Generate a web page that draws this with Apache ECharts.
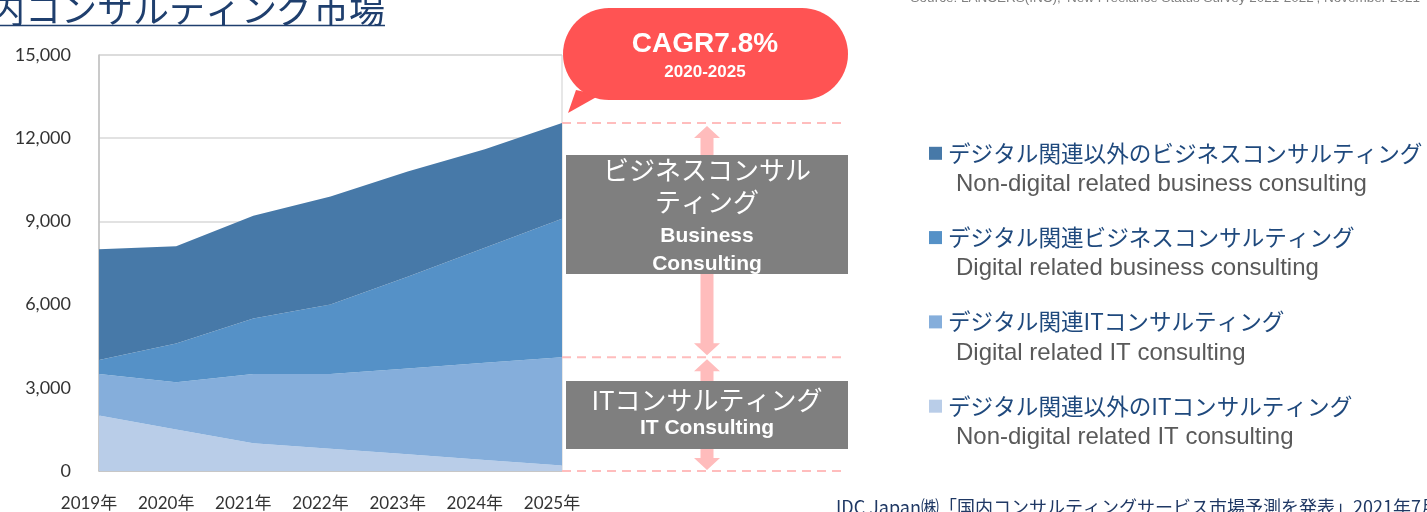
<!DOCTYPE html>
<html>
<head>
<meta charset="utf-8">
<script src="https://cdn.jsdelivr.net/npm/echarts@6/dist/echarts.min.js"></script>
<style>
html, body { margin: 0; padding: 0; background: #fff; }
#main { width: 1427px; height: 512px; }
</style>
</head>
<body>
<div id="main"></div>
<script>
// data (億円)
const years = ['2019年', '2020年', '2021年', '2022年', '2023年', '2024年', '2025年']
const nonDigitalIt = [2000, 1500, 1000, 800, 600, 400, 200]
const digitalIt = [1500, 1700, 2500, 2700, 3100, 3500, 3900]
const digitalBiz = [500, 1400, 2000, 2500, 3300, 4150, 5000]
const nonDigitalBiz = [4000, 3500, 3700, 3900, 3800, 3550, 3450]

const namesJa = [
  'デジタル関連以外のビジネスコンサルティング',
  'デジタル関連ビジネスコンサルティング',
  'デジタル関連ITコンサルティング',
  'デジタル関連以外のITコンサルティング'
]
const namesEn = [
  'Non-digital related business consulting',
  'Digital related business consulting',
  'Digital related IT consulting',
  'Non-digital related IT consulting'
]
const colors = ['#4779a8', '#5591c7', '#85aedb', '#b9cde8']

const chartInstance = echarts.init(document.getElementById('main'))

const areaSeries = (name, data, color) => ({
  name: name,
  type: 'line',
  stack: 'total',
  data: data,
  symbol: 'none',
  silent: true,
  lineStyle: { width: 0 },
  areaStyle: { color: color, opacity: 1 },
  emphasis: { disabled: true }
})

const legendRich = {
  ja: { fontFamily: 'Noto Sans CJK JP', fontSize: 22.6, color: '#1f497d', lineHeight: 31, padding: [0, 0, 0, 6] },
  en: { fontFamily: 'Liberation Sans', fontSize: 24, color: '#595959', lineHeight: 31, padding: [0, 0, 0, 27] }
}
colors.forEach((c, i) => {
  legendRich['s' + i] = { width: 13, height: 13, backgroundColor: c, lineHeight: 31, verticalAlign: 'middle' }
})

const option = {
  animation: false,
  grid: {
    left: 99, right: 865, top: 55, bottom: 40,
    show: true, borderColor: '#cfcfcf', borderWidth: 1
  },
  xAxis: {
    type: 'category',
    data: years,
    boundaryGap: false,
    axisLine: { lineStyle: { color: '#c0c0c0', width: 1.5 } },
    axisTick: { show: false },
    axisLabel: {
      interval: 0,
      margin: 24,
      fontFamily: 'Lato, Noto Sans CJK JP',
      fontSize: 17,
      color: '#333',
      padding: [0, 20, 0, 0]
    }
  },
  yAxis: {
    type: 'value',
    min: 0,
    max: 15000,
    interval: 3000,
    axisLine: { show: true, lineStyle: { color: '#c0c0c0', width: 1.5 } },
    splitLine: { lineStyle: { color: '#d9d9d9', width: 1.5 } },
    axisLabel: {
      margin: 28,
      fontFamily: 'Lato',
      fontSize: 18,
      color: '#333',
      formatter: v => v.toLocaleString('en-US')
    }
  },
  legend: {
    data: namesJa,
    orient: 'vertical',
    left: 919,
    top: 137,
    itemGap: 30,
    itemWidth: 0,
    itemHeight: 0,
    selectedMode: false,
    formatter: name => {
      const i = namesJa.indexOf(name)
      return '{s' + i + '| }{ja|' + name + '}\n{en|' + namesEn[i] + '}'
    },
    textStyle: { rich: legendRich }
  },
  series: [
    areaSeries(namesJa[3], nonDigitalIt, colors[3]),
    areaSeries(namesJa[2], digitalIt, colors[2]),
    areaSeries(namesJa[1], digitalBiz, colors[1]),
    areaSeries(namesJa[0], nonDigitalBiz, colors[0])
  ]
}
chartInstance.setOption(option)

// annotations placed from the chart's own y scale
const yOf = v => chartInstance.convertToPixel({ yAxisIndex: 0 }, v)
const totalEnd = nonDigitalIt[6] + digitalIt[6] + digitalBiz[6] + nonDigitalBiz[6]
const itEnd = nonDigitalIt[6] + digitalIt[6]
const yTop = yOf(totalEnd)
const yMid = yOf(itEnd)
const yZero = yOf(0)
const cx = 707

const dash = y => ({
  type: 'line',
  shape: { x1: 562, y1: y, x2: 846, y2: y },
  style: { stroke: '#ffbdbd', lineWidth: 2, lineDash: [9, 6] },
  z: 5
})
const arrow = (t, b) => ({
  type: 'polygon',
  shape: {
    points: [
      [cx, t], [cx + 13, t + 12], [cx + 6.5, t + 12], [cx + 6.5, b - 12], [cx + 13, b - 12],
      [cx, b], [cx - 13, b - 12], [cx - 6.5, b - 12], [cx - 6.5, t + 12], [cx - 13, t + 12]
    ]
  },
  style: { fill: '#ffbcbc' },
  z: 6
})
const txt = (text, x, y, size, bold, color, family, align) => ({
  type: 'text',
  x: x, y: y,
  style: {
    text: text,
    fill: color || '#fff',
    font: (bold ? 'bold ' : '') + size + 'px ' + (family || '"Noto Sans CJK JP"'),
    textAlign: align || 'center',
    textVerticalAlign: 'middle'
  },
  z: 20
})

chartInstance.setOption({
  graphic: [
    // title (cut off at the top left)
    {
      type: 'text', x: 385, y: 27,
      style: { text: '国内コンサルティング市場', fill: '#1f3f6e', font: '36px "Noto Sans CJK JP"', textAlign: 'right', textVerticalAlign: 'bottom' }
    },
    { type: 'line', shape: { x1: 0, y1: 25.5, x2: 385, y2: 25.5 }, style: { stroke: '#1f3f6e', lineWidth: 1.5 } },
    // source line at the top, mostly off screen
    {
      type: 'text', x: 1420, y: 5,
      style: { text: "Source: LANCERS(INC), 'New Freelance Status Survey 2021-2022', November 2021", fill: '#7f7f7f', font: '13.5px "Liberation Sans"', textAlign: 'right', textVerticalAlign: 'bottom' }
    },
    dash(yTop), dash(yMid), dash(yZero),
    arrow(yTop + 3, yMid - 2),
    arrow(yMid + 2, yZero - 1),
    // CAGR bubble
    { type: 'polygon', shape: { points: [[576, 90], [600, 95], [568, 113]] }, style: { fill: '#ff5353' }, z: 10 },
    { type: 'rect', shape: { x: 563, y: 8, width: 285, height: 92, r: 46 }, style: { fill: '#ff5353' }, z: 10 },
    txt('CAGR7.8%', 705, 44, 28, true, '#fff', '"Liberation Sans"'),
    txt('2020-2025', 705, 72, 17, true, '#fff', '"Liberation Sans"'),
    // business box
    { type: 'rect', shape: { x: 566, y: 155, width: 282, height: 119 }, style: { fill: '#7f7f7f' }, z: 12 },
    txt('ビジネスコンサル', 707, 170, 26, false),
    txt('ティング', 707, 202, 26, false),
    txt('Business', 707, 236, 21, true, '#fff', '"Liberation Sans"'),
    txt('Consulting', 707, 264, 21, true, '#fff', '"Liberation Sans"'),
    // IT box
    { type: 'rect', shape: { x: 566, y: 381, width: 282, height: 68 }, style: { fill: '#7f7f7f' }, z: 12 },
    txt('ITコンサルティング', 707, 400, 26, false),
    txt('IT Consulting', 707, 428, 21, true, '#fff', '"Liberation Sans"'),
    // bottom source
    {
      type: 'text', x: 836, y: 498,
      style: { text: 'IDC Japan㈱「国内コンサルティングサービス市場予測を発表」2021年7月', fill: '#1f3864', font: '18px "Noto Sans CJK JP"', textAlign: 'left', textVerticalAlign: 'top' }
    }
  ]
})
</script>
</body>
</html>
